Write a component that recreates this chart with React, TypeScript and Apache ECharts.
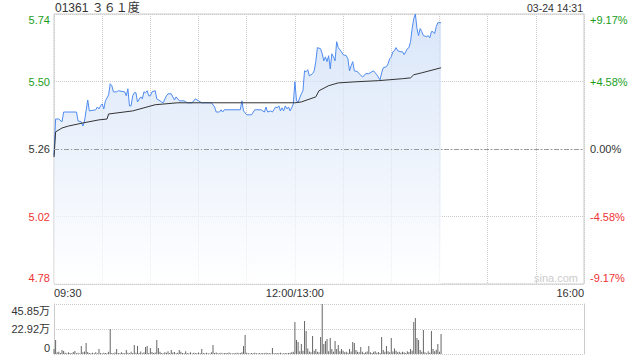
import React, { useEffect, useRef } from "react";
import * as echarts from "echarts";

const stockCode = "01361";
const stockName = "３６１度";
const stampText = "03-24 14:31";
const watermark = "sina.com";
const prevClose = 5.258;
const maxDev = 0.482;
const priceTickLabels = ["4.78", "5.02", "5.26", "5.50", "5.74"];
const pctTickLabels = ["-9.17%", "-4.58%", "0.00%", "+4.58%", "+9.17%"];
const timeTicks = [0, 150, 330];
const timeTickLabels = ["09:30", "12:00/13:00", "16:00"];
const sessionMinutes = 330;
const volTickLabels = ["0", "22.92万", "45.85万"];
const volMax = 45.85;

// minutes after 09:30 (trading time, lunch removed)
const priceMinutes = [
  0, 1, 3, 5, 6, 14, 15, 17, 18, 19, 21, 22, 26, 27, 28, 29, 30, 31, 32, 34,
  35, 36, 37, 39, 40, 44, 45, 46, 47, 48, 49, 50, 51, 52, 54, 55, 56, 57, 58, 59,
  60, 61, 63, 64, 67, 68, 70, 71, 73, 75, 76, 78, 81, 83, 86, 88, 90, 92, 98, 100,
  101, 103, 104, 105, 106, 116, 117, 118, 120, 123, 125, 129, 131, 132, 133, 135, 136, 138, 139, 140,
  141, 142, 143, 144, 145, 146, 147, 148, 149, 150, 151, 152, 154, 155, 156, 157, 158, 159, 161, 162,
  163, 164, 166, 167, 168, 169, 170, 171, 172, 173, 174, 175, 176, 177, 179, 180, 182, 183, 184, 185,
  186, 187, 189, 190, 192, 193, 194, 196, 198, 199, 200, 201, 203, 204, 205, 207, 208, 209, 210, 211,
  212, 213, 214, 216, 217, 218, 219, 220, 221, 222, 223, 224, 225, 226, 227, 228, 229, 230, 232, 233,
  234, 235, 236, 237, 238, 239, 241,
];
const prices = [
  5.235, 5.365, 5.365, 5.355, 5.39, 5.39, 5.358, 5.355, 5.34, 5.358, 5.433, 5.394, 5.398, 5.408, 5.401, 5.412, 5.419, 5.401, 5.43, 5.451,
  5.491, 5.484, 5.462, 5.462, 5.466, 5.462, 5.448, 5.473, 5.412, 5.412, 5.448, 5.459, 5.459, 5.426, 5.444, 5.437, 5.462, 5.459, 5.466, 5.448,
  5.448, 5.462, 5.466, 5.437, 5.426, 5.423, 5.448, 5.455, 5.455, 5.433, 5.444, 5.43, 5.43, 5.423, 5.423, 5.437, 5.43, 5.423, 5.423, 5.408,
  5.39, 5.39, 5.398, 5.39, 5.398, 5.398, 5.43, 5.394, 5.38, 5.38, 5.398, 5.398, 5.39, 5.408, 5.39, 5.394, 5.39, 5.408, 5.405, 5.412,
  5.394, 5.405, 5.394, 5.412, 5.401, 5.408, 5.394, 5.405, 5.419, 5.498, 5.43, 5.426, 5.455, 5.466, 5.537, 5.534, 5.541, 5.519, 5.527, 5.537,
  5.57, 5.62, 5.616, 5.598, 5.573, 5.587, 5.57, 5.591, 5.544, 5.598, 5.587, 5.573, 5.641, 5.62, 5.605, 5.595, 5.591, 5.58, 5.537, 5.555,
  5.57, 5.537, 5.534, 5.527, 5.516, 5.519, 5.527, 5.527, 5.534, 5.537, 5.53, 5.523, 5.505, 5.53, 5.548, 5.552, 5.562, 5.58, 5.587, 5.605,
  5.609, 5.62, 5.609, 5.605, 5.605, 5.595, 5.605, 5.616, 5.62, 5.641, 5.688, 5.724, 5.74, 5.688, 5.663, 5.688, 5.677, 5.663, 5.659, 5.663,
  5.655, 5.677, 5.677, 5.67, 5.695, 5.709, 5.709,
];
const avgMinutes = [0, 1, 5, 9, 18, 28, 33, 34, 49, 63, 77, 150, 154, 163, 165, 171, 177, 188, 202, 217, 222, 224, 229, 241];
const avgPrices = [
  5.229, 5.319, 5.333, 5.34, 5.351, 5.362, 5.365, 5.383, 5.394, 5.416, 5.423, 5.423, 5.426, 5.444, 5.466, 5.484, 5.494, 5.498, 5.502, 5.509,
  5.512, 5.523, 5.53, 5.548,
];
// volume per minute (万股), from minute 0
const volumes = [
  4.6, 12.8, 1.5, 2.0, 1.0, 3.7, 2.7, 1.2, 0.8, 1.5,
  1.0, 0.6, 1.8, 2.7, 0.8, 1.2, 0.5, 7.3, 1.5, 2.2,
  10.0, 1.8, 1.0, 0.7, 1.2, 0.6, 1.5, 0.8, 4.6, 0.9,
  0.5, 1.2, 1.0, 0.6, 2.0, 23.0, 1.0, 0.8, 1.4, 4.6,
  0.9, 0.6, 1.5, 1.0, 0.7, 3.7, 1.2, 0.8, 2.0, 1.0,
  8.3, 1.2, 7.3, 1.0, 2.2, 0.8, 1.5, 6.4, 7.3, 1.0,
  5.5, 1.8, 0.9, 1.4, 12.8, 5.5, 2.0, 1.0, 0.8, 1.5,
  1.2, 2.5, 1.0, 3.7, 1.4, 1.8, 0.8, 1.2, 3.7, 2.0,
  1.0, 0.6, 2.5, 1.0, 0.8, 1.5, 0.5, 1.2, 1.0, 0.7,
  1.4, 0.8, 4.6, 1.0, 0.6, 1.2, 0.8, 0.5, 1.5, 8.3,
  1.0, 1.4, 0.6, 0.8, 1.2, 0.5, 0.9, 1.0, 0.6, 1.3,
  0.8, 0.5, 1.0, 0.7, 1.2, 0.6, 1.0, 1.5, 7.3, 17.4,
  1.2, 0.8, 0.5, 1.0, 0.6, 1.2, 0.8, 0.5, 1.0, 0.7,
  0.9, 0.6, 1.2, 0.8, 1.0, 0.5, 5.5, 0.8, 0.6, 1.0,
  0.7, 1.2, 0.5, 0.8, 1.0, 0.6, 0.9, 1.2, 1.5, 2.0,
  29.3, 12.8, 11.0, 2.5, 9.2, 3.0, 30.3, 21.0, 5.0, 2.2,
  1.5, 16.5, 3.0, 4.6, 2.0, 1.5, 15.6, 45.85, 9.2, 12.0,
  13.8, 2.5, 14.7, 4.6, 2.0, 12.0, 4.6, 8.3, 2.5, 4.6,
  3.0, 1.5, 2.0, 1.2, 4.6, 2.2, 11.0, 10.0, 3.7, 2.0,
  1.5, 6.4, 2.0, 1.0, 1.5, 2.2, 7.3, 1.5, 1.0, 2.0,
  2.5, 1.2, 1.8, 1.0, 15.6, 3.7, 2.0, 7.3, 2.5, 1.5,
  14.7, 2.2, 5.0, 3.0, 1.5, 2.0, 1.2, 2.0, 1.5, 1.0,
  2.5, 1.8, 4.6, 3.0, 29.3, 33.0, 14.7, 12.8, 3.7, 2.0,
  22.0, 1.5, 0.6, 2.5, 1.2, 21.0, 4.6, 2.5, 4.0, 9.2,
  2.0, 18.3,
];

const FONT = 'Arial, "Liberation Sans", "Noto Sans CJK SC", sans-serif';
const GREEN = "#1a9e1a";
const RED = "#ee3333";
const DARK = "#333333";
const GRID_C = "#cccccc";

const toStep = (p: number) => (p - prevClose) / (maxDev / 2);

function richFor(padTop: number, padBottom: number) {
  const base = { fontSize: 11, fontFamily: FONT };
  return {
    gTop: { ...base, color: GREEN, padding: [padTop, 0, 0, 0] },
    g: { ...base, color: GREEN },
    k: { ...base, color: DARK },
    r: { ...base, color: RED },
    rBot: { ...base, color: RED, padding: [0, 0, padBottom, 0] },
  };
}
const keyFor = (i: number) => (i === 4 ? "gTop" : i === 3 ? "g" : i === 2 ? "k" : i === 1 ? "r" : "rBot");

export default function App() {
  const ref = useRef<HTMLDivElement>(null);
  useEffect(() => {
    if (!ref.current) return;
    const chart = echarts.init(ref.current, undefined, { renderer: "svg" });
    const priceData = priceMinutes.map((m, i) => [m, toStep(prices[i])]);
    const avgData = avgMinutes.map((m, i) => [m, toStep(avgPrices[i])]);
    const volData = volumes.map((v, i) => [i, v]);

    chart.setOption({
      animation: false,
      backgroundColor: "#ffffff",
      textStyle: { fontFamily: FONT },
      graphic: [
        { type: "text", left: 55, top: 2, style: { text: `${stockCode} ${stockName}`, fontSize: 12, fill: DARK, fontFamily: FONT } },
        { type: "text", right: 57, top: 3, style: { text: stampText, fontSize: 10.5, fill: DARK, fontFamily: FONT } },
        { type: "text", right: 62, top: 272, z: 10, style: { text: watermark, fontSize: 11, fill: "#cccccc", fontFamily: FONT } },
      ],
      grid: [
        { left: 54, right: 56, top: 14, height: 270, show: true, borderColor: GRID_C, borderWidth: 1, backgroundColor: "transparent" },
        { left: 54, right: 56, top: 304, height: 50, show: false },
      ],
      xAxis: [
        {
          type: "value", gridIndex: 0, min: 0, max: sessionMinutes, interval: 30,
          axisLine: { show: false }, axisTick: { show: false },
          splitLine: { show: true, lineStyle: { color: GRID_C, type: "dotted" } },
          axisLabel: {
            show: true, margin: 3, fontSize: 11, color: DARK, fontFamily: FONT,
            showMinLabel: true, showMaxLabel: true,
            alignMinLabel: "left", alignMaxLabel: "right",
            formatter: (v: number) => { const i = timeTicks.indexOf(Math.round(v)); return i >= 0 ? timeTickLabels[i] : ""; },
          },
        },
        {
          type: "value", gridIndex: 1, min: 0, max: sessionMinutes, interval: 30,
          axisLine: { show: false }, axisTick: { show: false }, axisLabel: { show: false }, splitLine: { show: false },
        },
      ],
      yAxis: [
        {
          type: "value", gridIndex: 0, min: -2, max: 2, interval: 1, position: "left",
          axisLine: { show: false }, axisTick: { show: false },
          splitLine: { show: true, lineStyle: { color: GRID_C, type: "dotted" } },
          axisLabel: {
            margin: 4,
            formatter: (v: number) => { const i = Math.round(v) + 2; return `{${keyFor(i)}|${priceTickLabels[i]}}`; },
            rich: richFor(12, 12),
          },
        },
        {
          type: "value", gridIndex: 0, min: -2, max: 2, interval: 1, position: "right",
          axisLine: { show: false }, axisTick: { show: false }, splitLine: { show: false },
          axisLabel: {
            margin: 6,
            formatter: (v: number) => { const i = Math.round(v) + 2; return `{${keyFor(i)}|${pctTickLabels[i]}}`; },
            rich: richFor(12, 12),
          },
        },
        {
          type: "value", gridIndex: 1, min: 0, max: volMax, interval: volMax / 2, position: "left",
          axisLine: { show: true, lineStyle: { color: GRID_C } }, axisTick: { show: false },
          splitLine: { show: true, lineStyle: { color: GRID_C, type: "dotted" } },
          axisLabel: {
            margin: 4,
            formatter: (v: number) => {
              const i = Math.round(v / (volMax / 2));
              const key = i === 2 ? "t" : i === 0 ? "b" : "m";
              return `{${key}|${volTickLabels[i]}}`;
            },
            rich: {
              t: { fontSize: 11, fontFamily: FONT, color: DARK, padding: [14, 0, 0, 0] },
              m: { fontSize: 11, fontFamily: FONT, color: DARK },
              b: { fontSize: 11, fontFamily: FONT, color: DARK, padding: [0, 0, 13, 0] },
            },
          },
        },
        {
          type: "value", gridIndex: 1, min: 0, max: volMax, interval: volMax / 2, position: "right",
          axisLine: { show: true, lineStyle: { color: GRID_C } }, axisTick: { show: false },
          splitLine: { show: false }, axisLabel: { show: false },
        },
      ],
      series: [
        {
          type: "line", xAxisIndex: 0, yAxisIndex: 0, data: priceData, symbol: "none", silent: true,
          lineStyle: { color: "#4f8bef", width: 1 },
          areaStyle: {
            origin: "start",
            color: new echarts.graphic.LinearGradient(0, 0, 0, 1, [
              { offset: 0, color: "#c9dbf6" },
              { offset: 1, color: "#ffffff" },
            ]),
          },
          markLine: {
            silent: true, symbol: "none", label: { show: false },
            lineStyle: { color: "#999999", type: [5, 2, 1, 2], width: 1 },
            data: [{ yAxis: 0 }],
          },
          z: 2,
        },
        {
          type: "line", xAxisIndex: 0, yAxisIndex: 0, data: avgData, symbol: "none", silent: true,
          lineStyle: { color: "#333333", width: 1 }, z: 3,
        },
        {
          type: "bar", xAxisIndex: 1, yAxisIndex: 2, data: volData, barWidth: 1, silent: true,
          itemStyle: { color: "#666666" },
        },
      ],
    });
    return () => chart.dispose();
  }, []);
  return <div ref={ref} style={{ position: "fixed", left: 0, top: 0, width: 640, height: 360, background: "#fff" }} />;
}
